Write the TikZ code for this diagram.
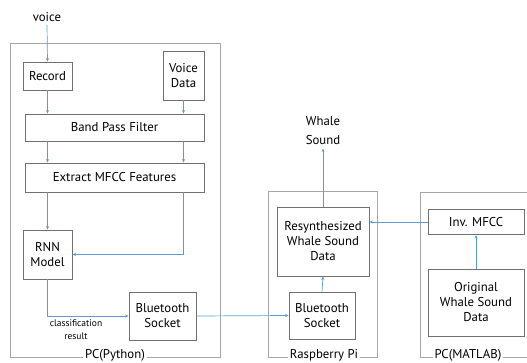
\documentclass[tikz,border=0pt]{standalone}
\usepackage{fontspec}
\setmainfont{PT Sans}
\usetikzlibrary{arrows.meta}
\definecolor{boxgray}{HTML}{707070}
\definecolor{framegray}{HTML}{A6A6A6}
\definecolor{flowblue}{HTML}{5B9BD5}
\tikzset{
  blk/.style={draw=boxgray, line width=0.9pt, fill=white, align=center, inner sep=1pt, font=\fontsize{12.8}{15}\selectfont},
  frm/.style={draw=framegray, line width=0.9pt},
  frmlabel/.style={fill=white, inner sep=2pt, font=\fontsize{12.8}{14}\selectfont},
  flow/.style={draw=flowblue, line width=0.7pt, -{Stealth[length=3.5pt,width=3pt]}},
}
\begin{document}
\begin{tikzpicture}[x=1pt,y=-1pt]
            \useasboundingbox (0,0) rectangle (527,363);
            % containers
            \draw[frm] (10,43) rectangle (220,357);
            \draw[frm] (268,191) rectangle (377,357);
            \draw[frm] (420,192) rectangle (545,357);
            \node[frmlabel] (pclabel) at (115,355) {PC(Python)};
            \node[frmlabel] (pilabel) at (324,355) {Raspberry Pi};
            \node[frmlabel] (mlabel) at (468,355) {PC(MATLAB)};
            % PC (Python)
            \node[font=\fontsize{12.8}{14}\selectfont] (voice) at (47,17) {voice};
            \node[blk, minimum width=49, minimum height=28] (record) at (47.5,76) {Record};
            \node[blk, minimum width=41, minimum height=49] (vdata) at (183.5,75.5) {Voice\\Data};
            \node[blk, minimum width=179, minimum height=27] (bpf) at (114.5,127.5) {Band Pass Filter};
            \node[blk, minimum width=179, minimum height=29] (mfcc) at (114.5,177.5) {Extract MFCC Features};
            \node[blk, minimum width=49, minimum height=49] (rnn) at (47.5,254.5) {RNN\\Model};
            \node[blk, minimum width=67, minimum height=48] (btpc) at (162.5,316) {Bluetooth\\Socket};
            \node[align=center, font=\fontsize{9.5}{13}\selectfont, inner sep=0pt] (result) at (76,330) {classification\\result};
            % Raspberry Pi
            \node[align=center, font=\fontsize{12.8}{19}\selectfont] (whale) at (323,131) {Whale\\Sound};
            \node[blk, minimum width=92, minimum height=69] (resyn) at (323,241.5) {Resynthesized\\Whale Sound\\Data};
            \node[blk, minimum width=66, minimum height=47] (btpi) at (322,315.5) {Bluetooth\\Socket};
            % PC (MATLAB)
            \node[blk, minimum width=96, minimum height=25] (inv) at (476,222) {Inv. MFCC};
            \node[blk, minimum width=96, minimum height=67] (orig) at (476,302.5) {Original\\Whale Sound\\Data};
            % arrows
            \draw[flow] (voice.south) -- (record.north);
            \draw[flow] (record.south) -- (record.south |- bpf.north);
            \draw[flow] (vdata.south) -- (vdata.south |- bpf.north);
            \draw[flow] (record.south |- bpf.south) -- (record.south |- mfcc.north);
            \draw[flow] (vdata.south |- bpf.south) -- (vdata.south |- mfcc.north);
            \draw[flow] (record.south |- mfcc.south) -- (rnn.north);
            \draw[flow] (vdata.south |- mfcc.south) |- (rnn.east);
            \draw[flow] (rnn.south) |- (btpc.west);
            \draw[flow] (btpc.east) -- (btpi.west);
            \draw[flow] (btpi.north) -- (resyn.south);
            \draw[flow] (resyn.north) -- (resyn.north |- whale.south);
            \draw[flow] (inv.west) -- (inv.west -| resyn.east);
            \draw[flow] (orig.north) -- (inv.south);
\end{tikzpicture}
\end{document}
